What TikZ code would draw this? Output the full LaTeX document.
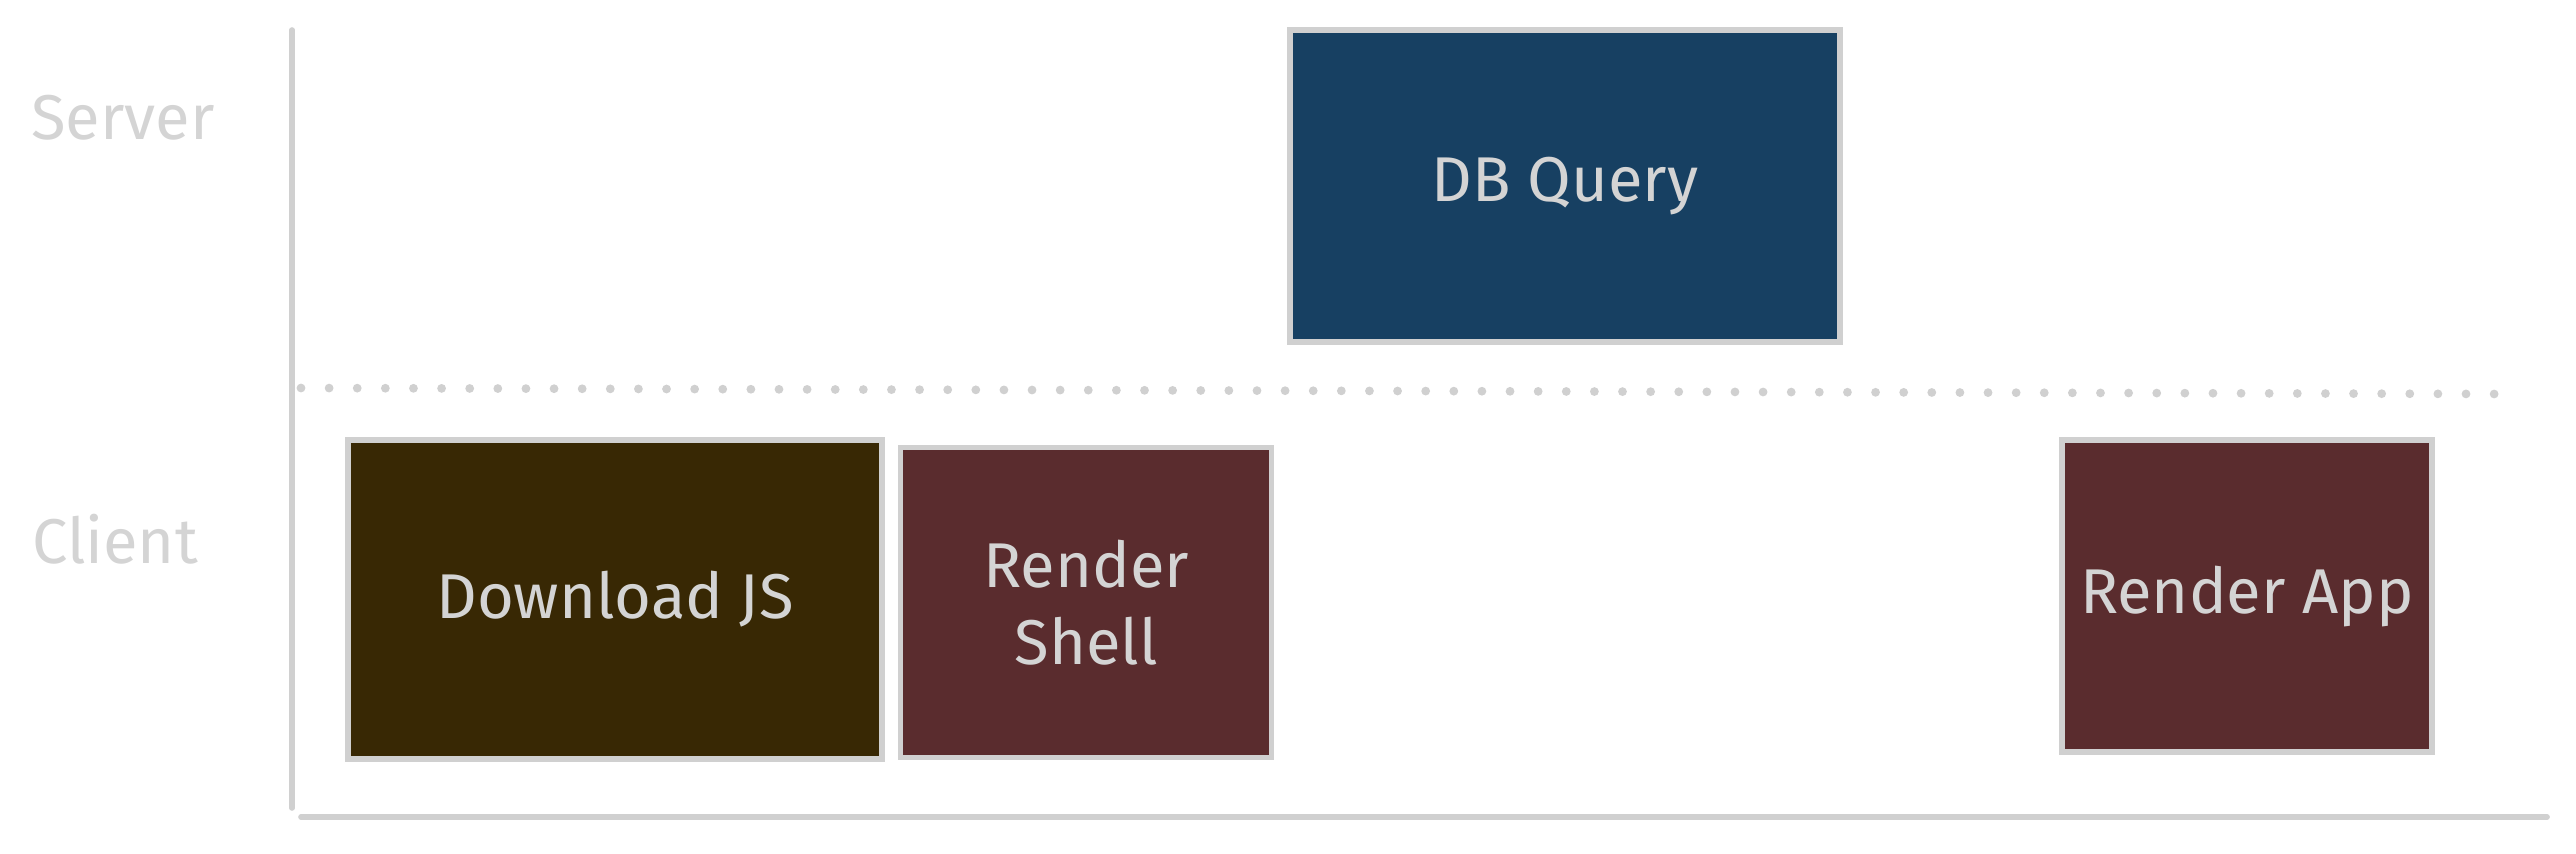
\documentclass[tikz,border=0pt]{standalone}
\usepackage{fontspec}
\setmainfont{Fira Sans}
\usepackage{tikz}
\usetikzlibrary{positioning}

\definecolor{edgegray}{HTML}{D0D0D0}
\definecolor{textgray}{HTML}{D4D4D4}
\definecolor{queryblue}{HTML}{174062}
\definecolor{jsbrown}{HTML}{382804}
\definecolor{renderred}{HTML}{5A2C2E}

\tikzset{
  phase/.style={rectangle,
    draw=edgegray,
    line width=1.6pt,
    text=textgray,
    align=center,
    font=\fontsize{18}{22}\selectfont},
  lane/.style={text=textgray, font=\fontsize{18}{22}\selectfont}
}

\begin{document}
\begin{tikzpicture}[node distance=0.13cm]
  \useasboundingbox (0,0) rectangle (25.76,8.53);

  % lanes
  \node (server) [lane] at (1.23,7.35) {Server};
  \node (client) [lane] at (1.15,3.14) {Client};

  \coordinate (ytop) at (2.92,8.23);
  \coordinate (origin) at (2.92,0.45);
  \coordinate (xleft) at (3.01,0.36);
  \coordinate (xright) at (25.47,0.36);
  \coordinate (sepleft) at (3.01,4.65);
  \coordinate (sepright) at (25.0,4.59);

  \draw[edgegray, line width=1.6pt, line cap=round] (ytop) -- (origin);
  \draw[edgegray, line width=1.6pt, line cap=round] (xleft) -- (xright);
  \draw[edgegray, line width=2.5pt, line cap=round, dash pattern=on 0pt off 8pt] (sepleft) -- (sepright);

  % boxes
  \node (query) [phase,
    fill=queryblue,
    minimum width=5.5cm,
    minimum height=3.12cm] at (15.65,6.67) {DB Query};

  \node (download) [phase,
    fill=jsbrown,
    minimum width=5.34cm,
    minimum height=3.19cm] at (6.15,2.535) {Download JS};

  \node (shell) [phase,
    fill=renderred,
    minimum width=3.71cm,
    minimum height=3.1cm,
    right = of download.east, anchor=west, yshift=-0.03cm] {Render\\Shell};

  \node (app) [phase,
    fill=renderred,
    minimum width=3.7cm,
    minimum height=3.12cm] at (22.47,2.57) {Render App};
\end{tikzpicture}
\end{document}
